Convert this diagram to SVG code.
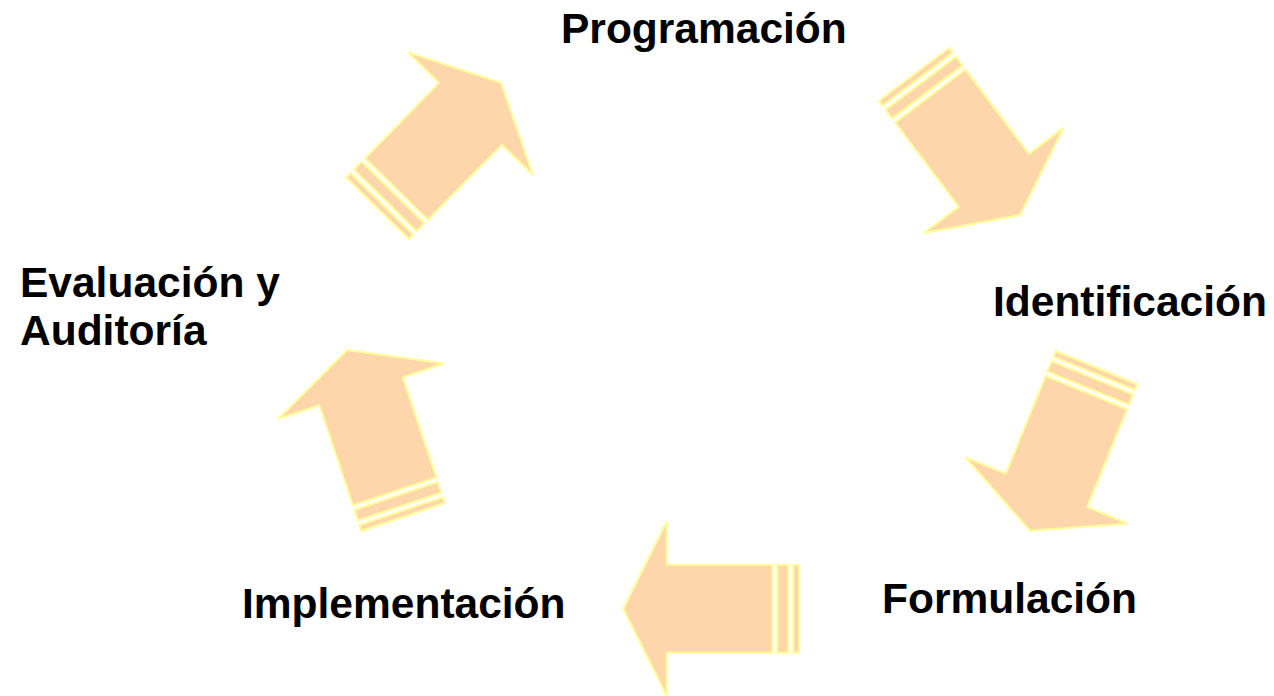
<svg xmlns="http://www.w3.org/2000/svg" xmlns:xlink="http://www.w3.org/1999/xlink" width="1274" height="696" viewBox="0 0 1274 696">
  <style>
    .shape { fill: #FDD7AB; stroke: #FFFF99; stroke-width: 2; stroke-linejoin: miter; }
    .label { font-family: "Liberation Sans", Arial, sans-serif; font-weight: bold; font-size: 42.5px; fill: #000000; }
  </style>
  <defs>
    <g id="arrowShape">
      <polygon class="shape" points="0,0 -43.5,-87.5 -43.5,-44 -149,-44 -149,44 -43.5,44 -43.5,87.5"/>
      <rect class="shape" x="-165" y="-44" width="11" height="88"/>
      <rect class="shape" x="-176" y="-44" width="6" height="88"/>
    </g>
  </defs>
  <rect width="1274" height="696" fill="#FFFFFF"/>
  <g id="connectors">
    <use id="arrow-eval-prog" href="#arrowShape" xlink:href="#arrowShape" transform="translate(501,82.7) rotate(-45.5)"/>
    <use id="arrow-prog-ident" href="#arrowShape" xlink:href="#arrowShape" transform="translate(1020,215) rotate(53)"/>
    <use id="arrow-ident-form" href="#arrowShape" xlink:href="#arrowShape" transform="translate(1030,530.7) rotate(112.2)"/>
    <use id="arrow-form-impl" href="#arrowShape" xlink:href="#arrowShape" transform="translate(623.3,608.8) rotate(180)"/>
    <use id="arrow-impl-eval" href="#arrowShape" xlink:href="#arrowShape" transform="translate(347.3,350) rotate(-108.5)"/>
  </g>
  <g id="node-programacion">
    <text class="label" x="561" y="43">Programación</text>
  </g>
  <g id="node-identificacion">
    <text class="label" x="993" y="316">Identificación</text>
  </g>
  <g id="node-formulacion">
    <text class="label" x="882" y="613">Formulación</text>
  </g>
  <g id="node-implementacion">
    <text class="label" x="242" y="618">Implementación</text>
  </g>
  <g id="node-evaluacion">
    <text class="label" x="20" y="297">Evaluación y</text>
    <text class="label" x="20" y="345">Auditoría</text>
  </g>
</svg>
